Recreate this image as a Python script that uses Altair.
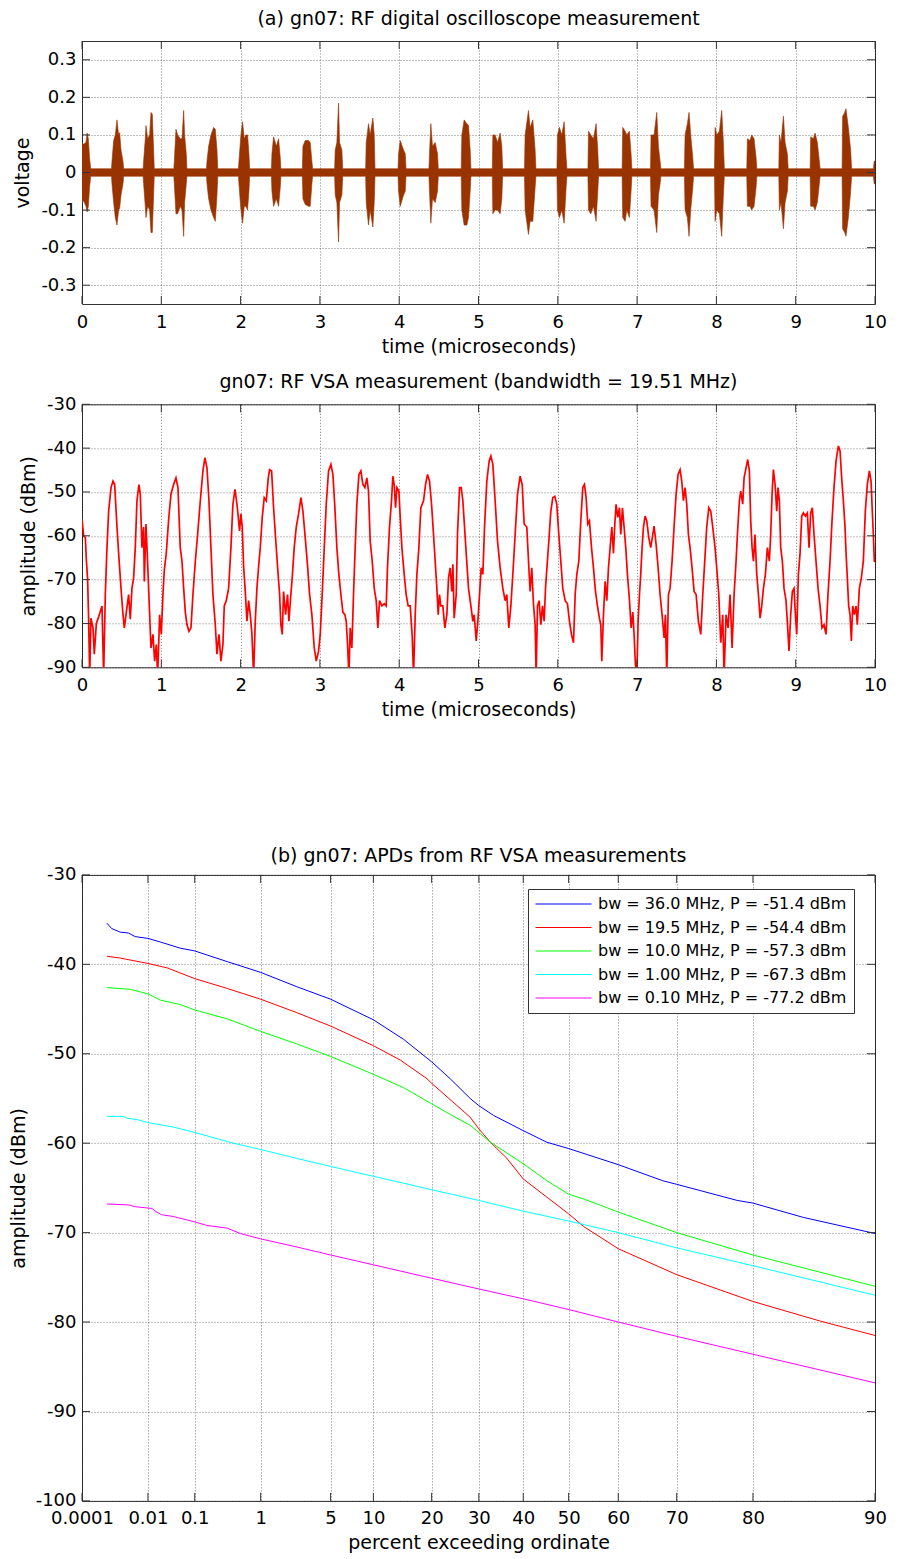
import math
import altair as alt
import pandas as pd

FONT = "DejaVu Sans"
W = 793
H_TOP = 263
H_MID = 263
H_BOT = 626
TICK_LEN = 8
BOX = "#333333"

# ---------------- panel (a): oscilloscope burst envelope ----------------
osc_t = [
    0.0, 0.02, 0.05, 0.065, 0.08, 0.095, 0.11,
    0.372, 0.378, 0.399, 0.42, 0.441, 0.462, 0.475, 0.492, 0.517, 0.525,
    0.771, 0.777, 0.798, 0.807, 0.828, 0.853, 0.870, 0.887, 0.903, 0.911,
    1.158, 1.164, 1.185, 1.206, 1.239, 1.261, 1.282, 1.294, 1.315, 1.323,
    1.570, 1.576, 1.597, 1.626, 1.66, 1.681, 1.702, 1.712,
    1.973, 1.979, 2.004, 2.025, 2.046, 2.067, 2.088, 2.105, 2.114,
    2.389, 2.395, 2.416, 2.45, 2.479, 2.5, 2.508,
    2.779, 2.786, 2.815, 2.857, 2.878, 2.899, 2.908,
    3.186, 3.193, 3.214, 3.235, 3.248, 3.277, 3.288,
    3.577, 3.584, 3.613, 3.634, 3.668, 3.685, 3.695,
    3.985, 3.992, 4.013, 4.055, 4.076, 4.086,
    4.375, 4.382, 4.399, 4.42, 4.454, 4.483, 4.493,
    4.782, 4.79, 4.819, 4.853, 4.874, 4.895, 4.905,
    5.174, 5.181, 5.21, 5.24, 5.273, 5.294, 5.304,
    5.580, 5.588, 5.63, 5.651, 5.685, 5.714, 5.724,
    5.989, 5.996, 6.021, 6.05, 6.08, 6.105, 6.115,
    6.380, 6.387, 6.416, 6.45, 6.483, 6.504, 6.514,
    6.811, 6.819, 6.849, 6.87, 6.903, 6.924, 6.934,
    7.169, 7.176, 7.214, 7.248, 7.269, 7.29, 7.300,
    7.597, 7.605, 7.634, 7.655, 7.676, 7.702, 7.712,
    7.976, 7.983, 8.004, 8.038, 8.067, 8.088, 8.100,
    8.383, 8.391, 8.424, 8.445, 8.475, 8.5, 8.510,
    8.787, 8.794, 8.815, 8.845, 8.866, 8.895, 8.905,
    9.182, 9.189, 9.223, 9.244, 9.273, 9.298, 9.308,
    9.585, 9.592, 9.618, 9.634, 9.664, 9.693, 9.705,
    9.98, 9.99, 10.0,
]
osc_hi = [
    0.08, 0.075, 0.08, 0.105, 0.09, 0.04, 0.01,
    0.01, 0.03, 0.085, 0.1, 0.14, 0.1, 0.106, 0.06, 0.03, 0.01,
    0.01, 0.03, 0.09, 0.125, 0.09, 0.1, 0.16, 0.155, 0.06, 0.01,
    0.01, 0.03, 0.115, 0.1, 0.09, 0.09, 0.165, 0.1, 0.05, 0.01,
    0.01, 0.03, 0.07, 0.1, 0.12, 0.115, 0.06, 0.01,
    0.01, 0.03, 0.1, 0.135, 0.09, 0.1, 0.1, 0.05, 0.01,
    0.01, 0.05, 0.095, 0.07, 0.09, 0.04, 0.01,
    0.01, 0.07, 0.085, 0.085, 0.08, 0.03, 0.01,
    0.01, 0.06, 0.08, 0.185, 0.08, 0.06, 0.01,
    0.01, 0.08, 0.13, 0.1, 0.145, 0.1, 0.01,
    0.01, 0.05, 0.085, 0.06, 0.05, 0.01,
    0.01, 0.05, 0.13, 0.07, 0.08, 0.05, 0.01,
    0.01, 0.1, 0.14, 0.13, 0.125, 0.06, 0.01,
    0.01, 0.1, 0.1, 0.08, 0.105, 0.07, 0.01,
    0.01, 0.1, 0.165, 0.12, 0.14, 0.06, 0.01,
    0.01, 0.1, 0.12, 0.1, 0.135, 0.04, 0.01,
    0.01, 0.11, 0.1, 0.09, 0.13, 0.06, 0.01,
    0.01, 0.12, 0.11, 0.1, 0.11, 0.05, 0.01,
    0.01, 0.1, 0.1, 0.16, 0.07, 0.03, 0.01,
    0.01, 0.1, 0.13, 0.16, 0.1, 0.04, 0.01,
    0.01, 0.12, 0.1, 0.11, 0.165, 0.08, 0.01,
    0.01, 0.09, 0.085, 0.1, 0.09, 0.04, 0.01,
    0.01, 0.1, 0.08, 0.15, 0.08, 0.05, 0.01,
    0.01, 0.095, 0.09, 0.105, 0.08, 0.03, 0.01,
    0.01, 0.15, 0.16, 0.17, 0.12, 0.06, 0.01,
    0.01, 0.03, 0.03,
]
osc_lo = [
    -0.08, -0.075, -0.09, -0.105, -0.09, -0.04, -0.01,
    -0.01, -0.03, -0.08, -0.12, -0.14, -0.1, -0.095, -0.06, -0.03, -0.01,
    -0.01, -0.03, -0.09, -0.12, -0.09, -0.1, -0.16, -0.16, -0.06, -0.01,
    -0.01, -0.03, -0.11, -0.11, -0.09, -0.1, -0.17, -0.08, -0.03, -0.01,
    -0.01, -0.03, -0.07, -0.1, -0.12, -0.13, -0.06, -0.01,
    -0.01, -0.03, -0.1, -0.135, -0.09, -0.09, -0.1, -0.05, -0.01,
    -0.01, -0.05, -0.09, -0.07, -0.09, -0.04, -0.01,
    -0.01, -0.07, -0.085, -0.09, -0.09, -0.03, -0.01,
    -0.01, -0.06, -0.08, -0.185, -0.08, -0.06, -0.01,
    -0.01, -0.08, -0.14, -0.1, -0.145, -0.08, -0.01,
    -0.01, -0.05, -0.09, -0.06, -0.05, -0.01,
    -0.01, -0.05, -0.135, -0.07, -0.08, -0.05, -0.01,
    -0.01, -0.1, -0.14, -0.14, -0.12, -0.05, -0.01,
    -0.01, -0.11, -0.1, -0.1, -0.11, -0.07, -0.01,
    -0.01, -0.1, -0.165, -0.13, -0.13, -0.04, -0.01,
    -0.01, -0.1, -0.12, -0.1, -0.135, -0.04, -0.01,
    -0.01, -0.1, -0.11, -0.09, -0.13, -0.05, -0.01,
    -0.01, -0.12, -0.13, -0.1, -0.12, -0.05, -0.01,
    -0.01, -0.09, -0.1, -0.16, -0.06, -0.03, -0.01,
    -0.01, -0.1, -0.12, -0.17, -0.1, -0.04, -0.01,
    -0.01, -0.13, -0.1, -0.11, -0.17, -0.06, -0.01,
    -0.01, -0.09, -0.09, -0.1, -0.09, -0.04, -0.01,
    -0.01, -0.1, -0.08, -0.15, -0.08, -0.05, -0.01,
    -0.01, -0.09, -0.09, -0.1, -0.08, -0.03, -0.01,
    -0.01, -0.15, -0.16, -0.17, -0.12, -0.05, -0.01,
    -0.01, -0.03, -0.03,
]

# ---------------- panel 2: VSA amplitude trace ----------------
vsa_t = [
    0.000, 0.021, 0.042, 0.055, 0.071, 0.084, 0.097, 0.113, 0.139, 0.155,
    0.181, 0.210, 0.252, 0.273, 0.294, 0.315, 0.336, 0.366, 0.391, 0.412,
    0.441, 0.462, 0.492, 0.517, 0.534, 0.559, 0.588, 0.609, 0.630, 0.651,
    0.672, 0.693, 0.718, 0.735, 0.756, 0.777, 0.786, 0.807, 0.828, 0.853,
    0.870, 0.895, 0.916, 0.937, 0.954, 0.979, 1.000, 1.021, 1.038, 1.063,
    1.092, 1.122, 1.155, 1.185, 1.210, 1.239, 1.261, 1.282, 1.303, 1.324,
    1.349, 1.374, 1.399, 1.429, 1.458, 1.492, 1.525, 1.550, 1.576, 1.601,
    1.626, 1.651, 1.681, 1.702, 1.727, 1.752, 1.777, 1.794, 1.819, 1.849,
    1.878, 1.903, 1.929, 1.954, 1.971, 1.987, 2.004, 2.021, 2.038, 2.059,
    2.080, 2.101, 2.122, 2.143, 2.164, 2.185, 2.206, 2.227, 2.248, 2.273,
    2.298, 2.324, 2.349, 2.366, 2.391, 2.416, 2.441, 2.466, 2.492, 2.508,
    2.525, 2.542, 2.567, 2.592, 2.609, 2.634, 2.651, 2.676, 2.702, 2.731,
    2.761, 2.786, 2.815, 2.845, 2.870, 2.899, 2.929, 2.954, 2.983, 3.004,
    3.029, 3.055, 3.080, 3.109, 3.139, 3.164, 3.189, 3.214, 3.239, 3.265,
    3.290, 3.315, 3.332, 3.349, 3.366, 3.382, 3.403, 3.424, 3.445, 3.466,
    3.492, 3.517, 3.542, 3.567, 3.592, 3.613, 3.634, 3.660, 3.685, 3.710,
    3.731, 3.752, 3.782, 3.811, 3.836, 3.853, 3.878, 3.903, 3.920, 3.937,
    3.954, 3.971, 3.996, 4.013, 4.034, 4.063, 4.088, 4.113, 4.139, 4.164,
    4.181, 4.202, 4.223, 4.248, 4.273, 4.307, 4.332, 4.357, 4.382, 4.408,
    4.433, 4.454, 4.475, 4.492, 4.508, 4.525, 4.550, 4.576, 4.601, 4.622,
    4.643, 4.664, 4.677, 4.693, 4.719, 4.735, 4.761, 4.782, 4.803, 4.819,
    4.845, 4.874, 4.904, 4.929, 4.946, 4.971, 4.992, 5.013, 5.034, 5.055,
    5.076, 5.105, 5.135, 5.156, 5.181, 5.210, 5.240, 5.273, 5.307, 5.336,
    5.357, 5.382, 5.408, 5.433, 5.462, 5.492, 5.525, 5.551, 5.576, 5.609,
    5.635, 5.651, 5.672, 5.693, 5.714, 5.727, 5.744, 5.765, 5.786, 5.807,
    5.828, 5.845, 5.861, 5.887, 5.912, 5.937, 5.962, 5.987, 6.013, 6.038,
    6.063, 6.093, 6.122, 6.147, 6.172, 6.198, 6.219, 6.240, 6.265, 6.290,
    6.315, 6.336, 6.357, 6.378, 6.399, 6.425, 6.450, 6.475, 6.500, 6.525,
    6.542, 6.555, 6.576, 6.597, 6.618, 6.639, 6.660, 6.681, 6.702, 6.719,
    6.735, 6.756, 6.777, 6.794, 6.815, 6.836, 6.857, 6.878, 6.904, 6.925,
    6.946, 6.962, 6.979, 6.996, 7.013, 7.030, 7.046, 7.063, 7.080, 7.101,
    7.122, 7.147, 7.172, 7.198, 7.214, 7.240, 7.265, 7.290, 7.315, 7.341,
    7.357, 7.374, 7.395, 7.416, 7.441, 7.466, 7.492, 7.517, 7.542, 7.563,
    7.584, 7.605, 7.626, 7.647, 7.668, 7.693, 7.719, 7.744, 7.773, 7.803,
    7.828, 7.853, 7.878, 7.904, 7.929, 7.954, 7.983, 8.004, 8.030, 8.055,
    8.080, 8.097, 8.122, 8.147, 8.172, 8.198, 8.223, 8.248, 8.265, 8.290,
    8.307, 8.332, 8.349, 8.374, 8.395, 8.416, 8.433, 8.450, 8.467, 8.487,
    8.509, 8.530, 8.551, 8.572, 8.593, 8.618, 8.643, 8.668, 8.685, 8.702,
    8.719, 8.740, 8.761, 8.777, 8.794, 8.811, 8.832, 8.853, 8.878, 8.899,
    8.916, 8.937, 8.958, 8.979, 8.996, 9.013, 9.034, 9.055, 9.076, 9.097,
    9.122, 9.147, 9.168, 9.189, 9.210, 9.231, 9.256, 9.282, 9.307, 9.332,
    9.357, 9.382, 9.407, 9.433, 9.458, 9.483, 9.509, 9.538, 9.559, 9.580,
    9.601, 9.622, 9.635, 9.651, 9.668, 9.685, 9.702, 9.719, 9.740, 9.761,
    9.777, 9.803, 9.828, 9.853, 9.878, 9.903, 9.929, 9.950, 9.966, 9.979,
    9.992, 10.0,
]
vsa_db = [
    -56.2, -60.0, -60.4, -65.5, -70.0, -79.5, -92, -78.8, -81.0, -87.0,
    -80.0, -78.5, -76.0, -92, -73.4, -62.7, -54.4, -49.0, -47.5, -48.3,
    -58.0, -64.0, -72.0, -78.0, -81.0, -77.4, -73.4, -79.0, -72.0, -69.6,
    -62.7, -52.0, -48.3, -50.5, -62.7, -58.0, -70.4, -57.3, -66.3, -78.0,
    -85.6, -82.5, -88.6, -84.8, -92, -78.0, -82.5, -73.4, -67.8, -64.0,
    -56.4, -50.5, -48.3, -46.8, -49.0, -62.7, -65.8, -72.0, -77.4, -80.3,
    -81.8, -81.0, -73.4, -65.8, -59.7, -52.0, -45.2, -42.2, -44.5, -52.0,
    -62.7, -73.4, -80.3, -87.0, -82.5, -88.6, -84.8, -76.0, -74.8, -72.0,
    -62.7, -52.8, -49.4, -52.8, -55.8, -58.9, -55.0, -58.0, -67.0, -72.7,
    -79.5, -74.8, -78.0, -82.5, -92, -79.5, -72.0, -67.0, -62.7, -55.8,
    -51.3, -52.0, -46.8, -44.9, -45.2, -53.6, -60.4, -67.0, -73.4, -80.3,
    -82.5, -72.7, -78.0, -73.4, -79.5, -73.4, -69.6, -62.7, -58.0, -55.0,
    -51.3, -54.4, -60.4, -67.0, -73.4, -78.0, -85.6, -88.6, -86.3, -82.5,
    -73.4, -62.7, -52.8, -45.2, -43.7, -46.0, -53.6, -62.7, -68.8, -73.4,
    -77.4, -78.0, -79.5, -84.8, -92, -81.0, -85.6, -73.4, -62.7, -52.8,
    -46.0, -45.2, -48.3, -49.0, -46.8, -49.8, -61.2, -65.8, -72.0, -74.8,
    -81.0, -74.8, -76.0, -75.5, -76.0, -67.0, -58.0, -52.0, -46.4, -48.3,
    -53.6, -49.0, -49.8, -55.8, -62.7, -68.8, -73.4, -76.0, -76.0, -82.9,
    -92, -78.0, -68.8, -62.7, -53.6, -52.0, -48.3, -46.0, -47.5, -52.8,
    -59.7, -65.8, -72.0, -78.0, -73.4, -76.0, -76.0, -81.0, -78.0, -69.6,
    -67.3, -72.7, -66.5, -78.8, -73.4, -59.7, -49.0, -49.0, -52.0, -56.6,
    -64.0, -72.0, -76.0, -79.5, -78.0, -84.0, -79.5, -73.4, -67.3, -68.8,
    -58.0, -47.5, -42.9, -41.8, -43.7, -52.0, -61.2, -67.3, -72.0, -74.8,
    -73.4, -81.0, -76.0, -68.8, -59.7, -50.5, -46.4, -48.3, -57.3, -58.0,
    -67.3, -72.7, -67.3, -75.5, -80.3, -92, -76.0, -74.8, -80.3, -76.0,
    -79.5, -72.0, -67.8, -61.2, -54.4, -51.3, -51.0, -52.8, -59.7, -65.8,
    -72.0, -74.8, -75.5, -79.5, -82.5, -84.4, -73.4, -68.8, -65.8, -56.6,
    -49.0, -48.3, -51.3, -57.3, -56.6, -62.7, -67.3, -72.7, -76.0, -78.8,
    -80.3, -88.6, -78.0, -70.4, -74.8, -67.3, -62.7, -58.0, -64.0, -57.3,
    -52.8, -55.8, -53.6, -59.7, -53.6, -58.0, -62.7, -68.8, -74.8, -81.0,
    -77.4, -82.5, -89.4, -92, -79.5, -73.4, -68.8, -62.7, -58.0, -55.5,
    -56.6, -60.4, -62.7, -59.7, -57.8, -62.0, -67.3, -73.4, -78.0, -83.3,
    -78.0, -92, -73.4, -72.0, -65.8, -58.0, -50.5, -46.0, -44.9, -47.5,
    -52.0, -49.0, -52.8, -59.7, -62.7, -67.3, -72.7, -73.4, -79.5, -82.5,
    -73.4, -65.8, -58.0, -53.6, -54.4, -58.0, -62.7, -67.3, -73.4, -84.4,
    -78.0, -92, -78.0, -81.0, -73.4, -85.6, -73.4, -65.8, -59.7, -52.0,
    -49.8, -52.8, -46.8, -44.5, -42.6, -45.2, -56.6, -62.7, -65.8, -59.7,
    -68.8, -73.4, -78.8, -76.0, -72.0, -68.8, -62.7, -65.8, -59.7, -50.5,
    -44.9, -48.3, -54.4, -49.0, -52.0, -62.7, -65.8, -72.0, -74.8, -81.0,
    -86.3, -78.0, -72.7, -72.0, -78.0, -82.5, -68.8, -64.0, -55.5, -54.8,
    -55.5, -54.8, -62.7, -54.8, -53.6, -59.7, -65.8, -72.0, -76.0, -81.0,
    -80.3, -82.5, -73.4, -65.8, -56.6, -49.0, -42.9, -39.5, -40.6, -46.8,
    -52.0, -58.0, -64.0, -69.6, -76.0, -78.0, -84.0, -76.0, -78.0, -76.0,
    -80.3, -72.0, -69.6, -65.8, -54.4, -48.3, -45.2, -47.5, -54.4, -59.7,
    -65.8, -66.0,
]

# ---------------- panel (b): APD curves ----------------
apd_labels = [
    "bw = 36.0 MHz, P = -51.4 dBm",
    "bw = 19.5 MHz, P = -54.4 dBm",
    "bw = 10.0 MHz, P = -57.3 dBm",
    "bw = 1.00 MHz, P = -67.3 dBm",
    "bw = 0.10 MHz, P = -77.2 dBm",
]
apd_colors = ["#0000ff", "#ff0000", "#00ff00", "#00ffff", "#ff00ff"]

bw36_p = [0.00071, 0.001, 0.0018, 0.0031, 0.0047, 0.01, 0.0196, 0.053, 0.1, 0.35,
          1, 2.5, 5, 10, 14.8, 20, 23.8, 28.1, 30, 33.3,
          40, 45.3, 50, 60, 67.8, 70, 78.2, 80, 84.9, 90]
bw36_db = [-35.4, -36.0, -36.4, -36.5, -36.9, -37.1, -37.5, -38.2, -38.5, -39.7,
           -40.9, -42.5, -43.9, -46.2, -48.4, -50.9, -52.8, -55.0, -55.8, -56.9,
           -58.6, -59.9, -60.6, -62.4, -64.2, -64.6, -66.4, -66.7, -68.3, -70.1]
bw19_p = [0.00071, 0.0018, 0.01, 0.028, 0.1, 0.35, 1, 2.5, 5, 10,
          14.2, 19.1, 20, 28.1, 30, 32.6, 36.3, 40, 45.7, 50,
          53.1, 60, 70, 80, 86.3, 90]
bw19_db = [-39.1, -39.3, -39.9, -40.4, -41.6, -42.7, -43.9, -45.4, -46.9, -49.1,
           -50.7, -52.8, -53.3, -57.1, -58.4, -59.9, -61.7, -64.0, -66.2, -67.9,
           -69.3, -71.8, -74.7, -77.7, -79.9, -81.5]
bw10_p = [0.00071, 0.0035, 0.01, 0.0196, 0.053, 0.1, 0.35, 1, 2.5, 5,
          10, 14.8, 20, 25.2, 28.1, 30, 32.6, 40, 45.3, 50,
          53.5, 60, 70, 80, 90]
bw10_db = [-42.6, -42.8, -43.3, -44.0, -44.5, -45.1, -46.1, -47.5, -48.9, -50.3,
           -52.3, -53.8, -55.6, -57.2, -58.0, -58.8, -59.9, -62.3, -64.2, -65.7,
           -66.3, -67.7, -70.0, -72.5, -76.0]
bw1_p = [0.00071, 0.00225, 0.0028, 0.0058, 0.01, 0.038, 0.1, 0.43, 1, 2.5,
         5, 10, 20, 30, 40, 50, 60, 70, 80, 90]
bw1_db = [-57.0, -57.0, -57.2, -57.4, -57.7, -58.2, -58.8, -60.0, -60.7, -61.7,
          -62.6, -63.7, -65.2, -66.4, -67.6, -68.7, -70.0, -71.7, -73.7, -77.0]
bw01_p = [0.00071, 0.0031, 0.0047, 0.0125, 0.015, 0.021, 0.038, 0.1, 0.165, 0.35,
          0.54, 1, 2.5, 5, 10, 20, 30, 40, 50, 60,
          70, 80, 90]
bw01_db = [-66.8, -66.9, -67.1, -67.3, -67.6, -68.0, -68.2, -68.8, -69.2, -69.5,
           -70.1, -70.7, -71.6, -72.5, -73.6, -75.1, -76.3, -77.4, -78.6, -80.0,
           -81.6, -83.6, -86.8]

# ---------------- tick values ----------------
time_ticks = [0, 1, 2, 3, 4, 5, 6, 7, 8, 9, 10]
volt_ticks = [-0.3, -0.2, -0.1, 0, 0.1, 0.2, 0.3]
vsa_ticks = [-90, -80, -70, -60, -50, -40, -30]
apd_y_ticks = [-100, -90, -80, -70, -60, -50, -40, -30]
pct_ticks = [0.0001, 0.01, 0.1, 1, 5, 10, 20, 30, 40, 50, 60, 70, 80, 90]

RAY_EXPR = "log(-log(datum.p / 100)) / LN10"


def ray(p):
    return math.log10(-math.log(p / 100.0))


def make_axis(**kw):
    base = dict(
        grid=True, gridDash=[1, 2], gridColor="#000000", gridOpacity=0.5, gridWidth=1,
        ticks=False, tickSize=0, domain=False,
        labelFont=FONT, labelFontSize=18, labelColor="#000000",
        titleFont=FONT, titleFontSize=19, titleFontWeight="normal", titleColor="#000000",
        labelOverlap=False, labelFlush=False,
    )
    base.update(kw)
    return alt.Axis(**base)


def edge_ticks(xvals, yvals, w, h, xscale, yscale, xaxis, yaxis, xcalc=False):
    """Inward tick marks on all four sides (MATLAB box style)."""
    xdf = pd.DataFrame({"p": xvals})
    ydf = pd.DataFrame({"yv": yvals})
    xbase = alt.Chart(xdf)
    if xcalc:
        xbase = xbase.transform_calculate(xv=RAY_EXPR)
        xfield = "xv:Q"
    else:
        xfield = "p:Q"
    xenc = alt.X(xfield, scale=xscale, axis=xaxis)
    yenc = alt.Y("yv:Q", scale=yscale, axis=yaxis)
    top = xbase.mark_rule(color=BOX, strokeWidth=1).encode(
        x=xenc, y=alt.value(0), y2=alt.value(TICK_LEN))
    bottom = xbase.mark_rule(color=BOX, strokeWidth=1).encode(
        x=xenc, y=alt.value(h), y2=alt.value(h - TICK_LEN))
    left = alt.Chart(ydf).mark_rule(color=BOX, strokeWidth=1).encode(
        y=yenc, x=alt.value(0), x2=alt.value(TICK_LEN))
    right = alt.Chart(ydf).mark_rule(color=BOX, strokeWidth=1).encode(
        y=yenc, x=alt.value(w - TICK_LEN), x2=alt.value(w))
    return [top, bottom, left, right]


def title(text, offset):
    return alt.TitleParams(text=text, font=FONT, fontSize=19, fontWeight="normal",
                           color="#000000", anchor="middle", frame="group", offset=offset)


time_scale = alt.Scale(domain=[0, 10], nice=False, zero=False)
time_axis = make_axis(values=time_ticks, title="time (microseconds)",
                      labelExpr="'' + datum.value", labelPadding=9, titlePadding=6)

# ---- panel (a) ----
volt_scale = alt.Scale(domain=[-0.35, 0.35], nice=False, zero=False)
volt_axis = make_axis(values=volt_ticks, title="voltage", labelExpr="'' + datum.value",
                      labelPadding=6, titleX=-60, titleY=H_TOP / 2, titleBaseline="middle")
osc_df = pd.DataFrame({"t": osc_t, "hi": osc_hi, "lo": osc_lo})
top_main = alt.Chart(osc_df).mark_area(
    color="#993300", stroke="#993300", strokeWidth=0.6, clip=True
).encode(
    x=alt.X("t:Q", scale=time_scale, axis=time_axis),
    y=alt.Y("hi:Q", scale=volt_scale, axis=volt_axis),
    y2="lo:Q",
)
top = alt.layer(
    top_main, *edge_ticks(time_ticks, volt_ticks, W, H_TOP, time_scale, volt_scale,
                          time_axis, volt_axis)
).properties(width=W, height=H_TOP,
             title=title("(a) gn07: RF digital oscilloscope measurement", 12))

# ---- panel 2 ----
vsa_scale = alt.Scale(domain=[-90, -30], nice=False, zero=False)
vsa_axis = make_axis(values=vsa_ticks, title="amplitude (dBm)",
                     labelExpr="'' + datum.value", labelPadding=6,
                     titleX=-54, titleY=H_MID / 2, titleBaseline="middle")
vsa_df = pd.DataFrame({"t": vsa_t, "db": vsa_db})
mid_main = alt.Chart(vsa_df).mark_line(color="#ff0000", strokeWidth=1.7, clip=True).encode(
    x=alt.X("t:Q", scale=time_scale, axis=time_axis),
    y=alt.Y("db:Q", scale=vsa_scale, axis=vsa_axis),
)
mid = alt.layer(
    mid_main, *edge_ticks(time_ticks, vsa_ticks, W, H_MID, time_scale, vsa_scale,
                          time_axis, vsa_axis)
).properties(width=W, height=H_MID,
             title=title("gn07: RF VSA measurement (bandwidth = 19.51 MHz)", 3))

# ---- spacer ----
spacer = alt.Chart(pd.DataFrame({"z": [0]})).mark_point(opacity=0).encode(
    x=alt.X("z:Q", axis=None), y=alt.Y("z:Q", axis=None)
).properties(width=W, height=93, view=alt.ViewBackground(stroke="transparent"))

# ---- panel (b) ----
frames = []
for lab, ps, dbs in zip(apd_labels, [bw36_p, bw19_p, bw10_p, bw1_p, bw01_p],
                        [bw36_db, bw19_db, bw10_db, bw1_db, bw01_db]):
    frames.append(pd.DataFrame({"p": ps, "db": dbs, "label": lab}))
apd_df = pd.concat(frames, ignore_index=True)

pct_scale = alt.Scale(domain=[ray(90), ray(0.0001)], reverse=True, nice=False, zero=False)
pct_axis = make_axis(values=[ray(p) for p in pct_ticks],
                     title="percent exceeding ordinate",
                     labelExpr="format(100 * exp(-pow(10, datum.value)), '.4~g')",
                     labelPadding=9, titlePadding=6)
apd_scale = alt.Scale(domain=[-100, -30], nice=False, zero=False)
apd_axis = make_axis(values=apd_y_ticks, title="amplitude (dBm)",
                     labelExpr="'' + datum.value", labelPadding=6,
                     titleX=-64, titleY=H_BOT / 2, titleBaseline="middle")

apd_main = alt.Chart(apd_df).transform_calculate(xv=RAY_EXPR).mark_line(
    strokeWidth=1, clip=True
).encode(
    x=alt.X("xv:Q", scale=pct_scale, axis=pct_axis),
    y=alt.Y("db:Q", scale=apd_scale, axis=apd_axis),
    color=alt.Color("label:N", scale=alt.Scale(domain=apd_labels, range=apd_colors),
                    legend=alt.Legend(orient="none", legendX=446, legendY=848, title=None,
                                      symbolType="stroke", symbolSize=3136,
                                      symbolStrokeWidth=1, clipHeight=16,
                                      labelFont=FONT, labelFontSize=16, labelColor="#000000",
                                      labelLimit=500, labelOffset=6,
                                      padding=7, rowPadding=7.5,
                                      strokeColor="#333333", fillColor="#ffffff")),
)
bot = alt.layer(
    apd_main, *edge_ticks(pct_ticks, apd_y_ticks, W, H_BOT, pct_scale, apd_scale,
                          pct_axis, apd_axis, xcalc=True)
).properties(width=W, height=H_BOT,
             title=title("(b) gn07: APDs from RF VSA measurements", 0))

chart = alt.vconcat(top, mid, spacer, bot, spacing=15.3).properties(
    padding={"left": 0, "top": 1, "right": 5, "bottom": 0}
).configure_view(stroke=BOX, strokeWidth=1)

chart.save("out.html", embed_options={"renderer": "svg", "actions": False})
